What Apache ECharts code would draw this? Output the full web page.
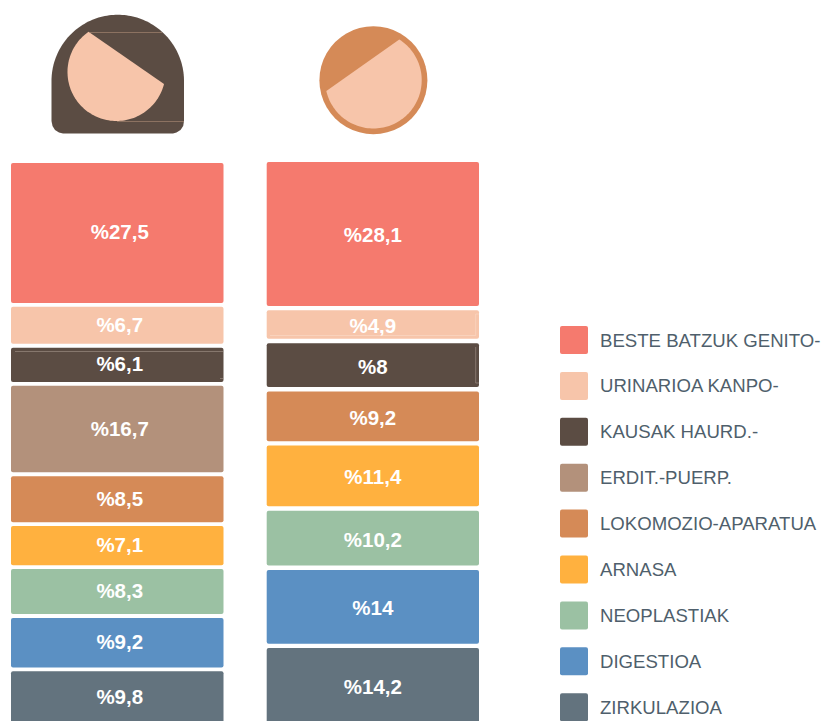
<!DOCTYPE html>
<html>
<head>
<meta charset="utf-8">
<style>html,body{margin:0;padding:0;background:#fff}#c{width:821px;height:721px}</style>
<script src="https://cdn.jsdelivr.net/npm/echarts@6/dist/echarts.min.js"></script>
</head>
<body>
<div id="c"></div>
<script>
const categories = ['BESTE BATZUK GENITO-','URINARIOA KANPO-','KAUSAK HAURD.-','ERDIT.-PUERP.','LOKOMOZIO-APARATUA','ARNASA','NEOPLASTIAK','DIGESTIOA','ZIRKULAZIOA'];
const colors = ['#f57a6e','#f7c5aa','#5b4c43','#b3917b','#d58a57','#ffb13f','#9bc1a3','#5b90c3','#63737e'];
const women = [27.5,6.7,6.1,16.7,8.5,7.1,8.3,9.2,9.8];
const men = [28.1,4.9,8,null,9.2,11.4,10.2,14,14.2];

const FONT = '"Liberation Sans", Arial, sans-serif';
const PAD = 2;          // each block reaches this far past its value on every side
const columns = [
  {values: women, left: 13, width: 208.5, top: 165, pxPerUnit: 4.95, gapPx: 7.9, labelOffset: [2.5, -1]},
  {values: men,   left: 268.7, width: 208.3, top: 164, pxPerUnit: 4.98, gapPx: 8.4, labelOffset: [0, 1]}
];
const GRID_H = 557;

function blockRenderer(labelOffset) {
  return function (params, api) {
    const top = api.coord([0, api.value(1)])[1];
    const bottom = api.coord([0, api.value(2)])[1];
    const band = api.size([1, 0])[0];
    const cx = api.coord([0, 0])[0];
    return {
      type: 'rect',
      shape: {x: cx - band / 2 - PAD, y: top - PAD, width: band + PAD * 2, height: bottom - top + PAD * 2, r: 2},
      style: {fill: api.visual('color')},
      textContent: {
        style: {text: '%' + String(api.value(3)).replace('.', ','), fill: '#fff',
          font: 'bold 20.5px ' + FONT, align: 'center', verticalAlign: 'middle'}
      },
      textConfig: {position: 'inside', offset: labelOffset}
    };
  };
}

const grids = [], xAxes = [], yAxes = [], series = [];
columns.forEach((col, c) => {
  grids.push({left: col.left, top: col.top, width: col.width, height: GRID_H});
  xAxes.push({type: 'category', gridIndex: c, show: false, data: ['']});
  yAxes.push({type: 'value', gridIndex: c, show: false, inverse: true, min: 0, max: GRID_H / col.pxPerUnit});
  const gap = col.gapPx / col.pxPerUnit;
  let cursor = 0;
  categories.forEach((name, i) => {
    const v = col.values[i];
    if (v == null) return;
    series.push({
      type: 'custom', name: name, xAxisIndex: c, yAxisIndex: c, silent: true,
      itemStyle: {color: colors[i]},
      renderItem: blockRenderer(col.labelOffset),
      encode: {x: 0, y: [1, 2]},
      data: [[0, cursor, cursor + v, v]]
    });
    cursor += v + gap;
  });
});

function arc(cx, cy, r, fromDeg, toDeg) {
  const n = 96, pts = [];
  for (let j = 0; j <= n; j++) {
    const a = (fromDeg + (toDeg - fromDeg) * j / n) * Math.PI / 180;
    pts.push([cx + r * Math.cos(a), cy + r * Math.sin(a)]);
  }
  return pts;
}
function hairline(x1, y1, x2, y2, stroke) {
  return {type: 'line', z: 20, shape: {x1, y1, x2, y2}, style: {stroke, lineWidth: 0.7, opacity: 0.8}};
}
const hairShape = arc(117.75, 81, 66.25, 180, 360).concat([
  [184,121],[183.2,126],[180.5,130],[176.5,132.6],[173,133.5],
  [63,133.5],[59,132.6],[55,130],[52.5,126],[51.5,121]
]);
const iconGraphics = [
  {type: 'polygon', shape: {points: hairShape}, style: {fill: '#5b4c43'}},
  {type: 'polygon', shape: {points: arc(116.5, 72, 49, 235.2, 14.2)}, style: {fill: '#f7c5aa'}},
  hairline(89, 32.5, 162, 32.5, '#b3917b'),
  hairline(117, 121.5, 184, 121.5, '#b3917b'),
  {type: 'circle', shape: {cx: 373.4, cy: 80.2, r: 54}, style: {fill: '#d58a57'}},
  {type: 'polygon', shape: {points: arc(373.4, 80.2, 48.3, -57.6, 167)}, style: {fill: '#f7c5aa'}},
  hairline(15, 351.5, 223, 351.5, '#a89a90'),
  hairline(220, 378.5, 223, 378.5, '#a89a90'),
  hairline(475.7, 347, 475.7, 383, '#a89a90'),
  hairline(475.7, 383, 479, 383, '#a89a90'),
  hairline(270, 335.5, 475.7, 335.5, '#fbdccb'),
  hairline(475.7, 314, 475.7, 335.5, '#fbdccb'),
  hairline(475.7, 314, 479, 314, '#fbdccb')
];

const chart = echarts.init(document.getElementById('c'), null, {renderer: 'svg'});
chart.setOption({
  animation: false,
  backgroundColor: '#fff',
  grid: grids, xAxis: xAxes, yAxis: yAxes, series: series,
  legend: {
    data: categories, orient: 'vertical', left: 555, top: 321, height: 430,
    itemWidth: 28, itemHeight: 28, itemGap: 17.9,
    icon: 'path://M2,0H26Q28,0 28,2V26Q28,28 26,28H2Q0,28 0,26V2Q0,0 2,0Z', selectedMode: false,
    textStyle: {color: '#4f5f6c', fontFamily: FONT, fontSize: 18.6, padding: [0, 0, 0, 7]}
  },
  graphic: {elements: iconGraphics}
});
</script>
</body>
</html>
